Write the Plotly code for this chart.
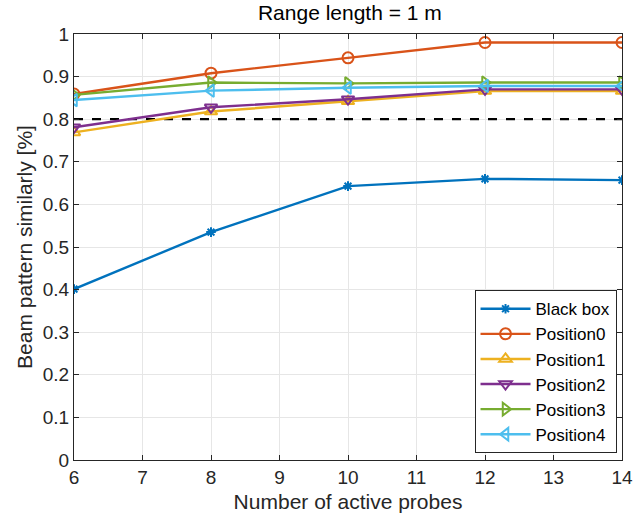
import plotly.graph_objects as go

probes = [6, 8, 10, 12, 14]
black_box = [0.401, 0.535, 0.643, 0.660, 0.657]
position0 = [0.859, 0.908, 0.944, 0.980, 0.980]
position1 = [0.769, 0.818, 0.842, 0.866, 0.866]
position2 = [0.781, 0.828, 0.847, 0.870, 0.870]
position3 = [0.857, 0.886, 0.884, 0.886, 0.886]
position4 = [0.845, 0.867, 0.874, 0.878, 0.878]
threshold = 0.8

series = [
    ("Black box", black_box, "#0072BD", "asterisk-open", 8),
    ("Position0", position0, "#D95319", "circle-open", 11),
    ("Position1", position1, "#EDB120", "triangle-up-open", 11),
    ("Position2", position2, "#7E2F8E", "triangle-down-open", 11),
    ("Position3", position3, "#77AC30", "triangle-right-open", 11),
    ("Position4", position4, "#4DBEEE", "triangle-left-open", 11),
]

fig = go.Figure()
fig.add_trace(go.Scatter(x=[probes[0], probes[-1]], y=[threshold, threshold], mode="lines",
                         line=dict(color="black", width=2.2, dash="dash"), showlegend=False,
                         hoverinfo="skip"))
for name, vals, color, sym, sz in series:
    fig.add_trace(go.Scatter(x=probes, y=vals, mode="lines+markers", name=name,
                             line=dict(color=color, width=2.4),
                             marker=dict(symbol=sym, size=sz, color=color,
                                         line=dict(color=color, width=2))))

font = "Liberation Sans, Arial, Helvetica, sans-serif"
axis_common = dict(showline=True, linecolor="#262626", linewidth=1, mirror="ticks",
                   ticks="inside", ticklen=5, tickcolor="#262626",
                   showgrid=True, gridcolor="#e6e6e6", gridwidth=1, zeroline=False,
                   automargin=False,
                   tickfont=dict(size=19, color="#262626", family=font),
                   title_font=dict(size=21, color="#262626", family=font))

fig.update_layout(
    width=642, height=518,
    margin=dict(l=74, r=20, t=34, b=58),
    paper_bgcolor="white", plot_bgcolor="white",
    font=dict(family=font, color="#262626"),
    title=dict(text="Range length = 1 m", x=0.545, xanchor="center", y=0.99, yanchor="top",
               font=dict(size=21, color="#000000", family=font)),
    xaxis=dict(range=[6, 14], dtick=1, title=dict(text="Number of active probes", standoff=7),
               **axis_common),
    yaxis=dict(range=[0, 1], dtick=0.1, tickformat="~g",
               title=dict(text="Beam pattern similarly [%]", standoff=4), **axis_common),
    legend=dict(x=0.99, y=0.016, xanchor="right", yanchor="bottom",
                bgcolor="white", bordercolor="#262626", borderwidth=1,
                font=dict(size=17, color="#000000", family=font),
                tracegroupgap=0, itemwidth=50),
    showlegend=True,
)

fig.write_html("out.html")
